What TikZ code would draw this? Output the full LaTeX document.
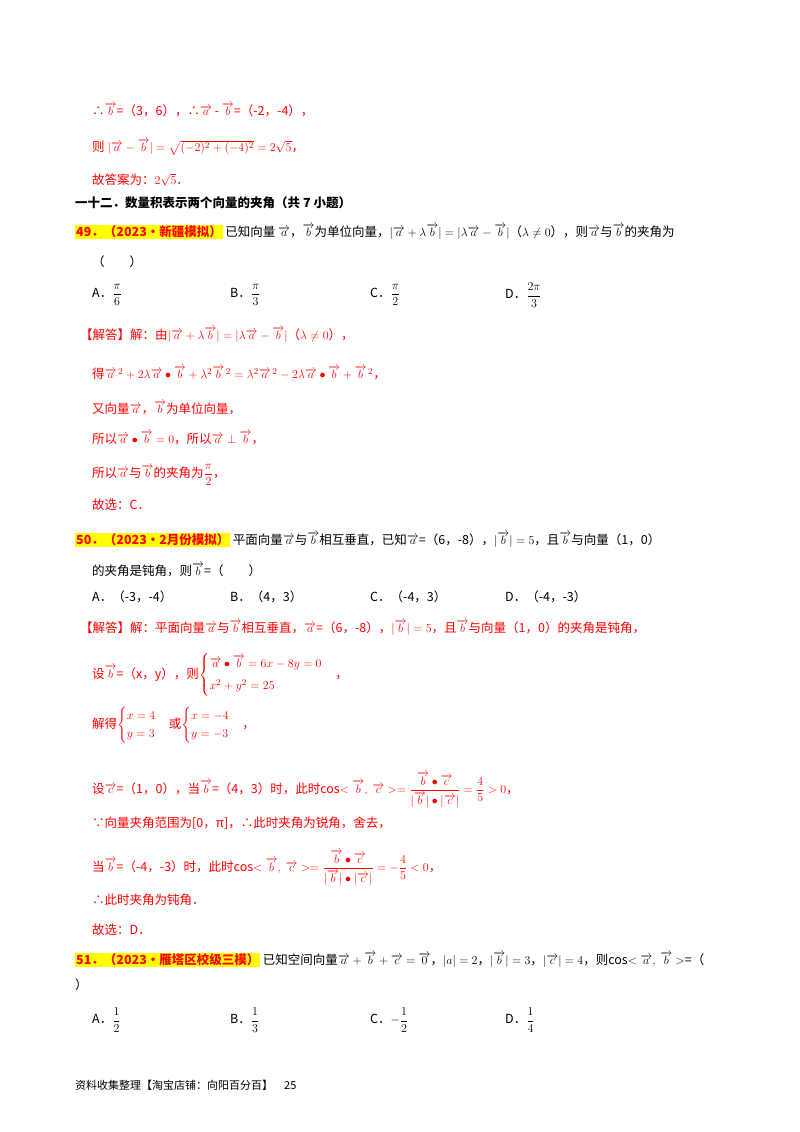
\documentclass[tikz,border=0pt]{standalone}
\usepackage{fontspec}
\setmainfont{Noto Sans CJK SC}
\usepackage{amsmath}
\definecolor{hl}{RGB}{255,255,0}
\newcommand{\va}{\overrightarrow{a}}
\newcommand{\vb}{\overrightarrow{b}}
\newcommand{\vc}{\overrightarrow{c}}
\begin{document}
\begin{tikzpicture}[x=1pt,y=-1pt,
 t/.style={anchor=west,inner sep=0pt,text=red,font=\fontsize{12.5}{15}\selectfont},
 k/.style={t,text=black},
 hb/.style={t,fill=hl,inner sep=1pt,font=\fontsize{12.5}{15}\selectfont\bfseries}]
\useasboundingbox[fill=white] (0,0) rectangle (800,1132);
\node[t] (l1) at (92,110) {∴$\vb$=（3，6），∴$\va$ - $\vb$=（-2，-4），};
\node[t] (l2) at (92,147) {则 $|\va-\vb|=\sqrt{(-2)^2+(-4)^2}=2\sqrt5$，};
\node[t] (l3) at (92,180) {故答案为：$2\sqrt5$．};
\node[k,font=\fontsize{12.5}{15}\selectfont\bfseries] (h) at (75,203) {一十二．数量积表示两个向量的夹角（共 7 小题）};
\node[hb] (q49) at (75,232) {49．（2023•新疆模拟）};
\node[k] (q49t) at (q49.east) {\,已知向量 $\va$，$\vb$为单位向量，$|\va+\lambda\vb|=|\lambda\va-\vb|$（$\lambda\neq0$），则$\va$与$\vb$的夹角为};
\node[k] (q49p) at (92,262) {（　　）};
\node[k] (a49) at (92,295) {A．$\dfrac{\pi}{6}$};
\node[k] (b49) at (230,295) {B．$\dfrac{\pi}{3}$};
\node[k] (c49) at (370,295) {C．$\dfrac{\pi}{2}$};
\node[k] (d49) at (505,295) {D．$\dfrac{2\pi}{3}$};
\node[t] (s1) at (80,335) {【解答】解：由$|\va+\lambda\vb|=|\lambda\va-\vb|$（$\lambda\neq0$），};
\node[t] (s2) at (92,373) {得$\va^{\,2}+2\lambda\va\bullet\vb+\lambda^2\vb^{\,2}=\lambda^2\va^{\,2}-2\lambda\va\bullet\vb+\vb^{\,2}$，};
\node[t] (s3) at (92,408) {又向量$\va$，$\vb$为单位向量，};
\node[t] (s4) at (92,438) {所以$\va\bullet\vb=0$，所以$\va\perp\vb$，};
\node[t] (s5) at (92,475) {所以$\va$与$\vb$的夹角为$\dfrac{\pi}{2}$，};
\node[t] (s6) at (92,505) {故选：\textit{C}．};
\node[hb] (q50) at (75,540) {50．（2023•2月份模拟）};
\node[k] (q50t) at (q50.east) {\,平面向量$\va$与$\vb$相互垂直，已知$\va$=（6，-8），$|\vb|=5$，且$\vb$与向量（1，0）};
\node[k] (q50b) at (92,570) {的夹角是钝角，则$\vb$=（　　）};
\node[k] (a50) at (92,597) {A．（-3，-4）};
\node[k] (b50) at (230,597) {B．（4，3）};
\node[k] (c50) at (370,597) {C．（-4，3）};
\node[k] (d50) at (505,597) {D．（-4，-3）};
\node[t] (u1) at (80,628) {【解答】解：平面向量$\va$与$\vb$相互垂直，$\va$=（6，-8），$|\vb|=5$，且$\vb$与向量（1，0）的夹角是钝角，};
\node[t] (u2) at (92,675) {设$\vb$=（\textit{x}，\textit{y}），则$\begin{cases}\va\bullet\vb=6x-8y=0\\[4pt] x^2+y^2=25\end{cases}$，};
\node[t] (u3) at (92,725) {解得$\begin{cases}x=4\\y=3\end{cases}$或$\begin{cases}x=-4\\y=-3\end{cases}$，};
\node[t] (u4) at (92,790) {设$\vc$=（1，0），当$\vb$=（4，3）时，此时cos$<\vb,\ \vc>=\dfrac{\vb\bullet\vc}{|\vb|\bullet|\vc|}=\dfrac{4}{5}>0$，};
\node[t] (u5) at (92,823) {∵向量夹角范围为[0，π]，∴此时夹角为锐角，舍去，};
\node[t] (u6) at (92,868) {当$\vb$=（-4，-3）时，此时cos$<\vb,\ \vc>=\dfrac{\vb\bullet\vc}{|\vb|\bullet|\vc|}=-\dfrac{4}{5}<0$，};
\node[t] (u7) at (92,900) {∴此时夹角为钝角．};
\node[t] (u8) at (92,930) {故选：\textit{D}．};
\node[hb] (q51) at (75,960) {51．（2023•雁塔区校级三模）};
\node[k] (q51t) at (q51.east) {\,已知空间向量$\va+\vb+\vc=\overrightarrow{0}$，$|a|=2$，$|\vb|=3$，$|\vc|=4$，则cos$<\va,\ \vb>$=（};
\node[k] (q51p) at (75,985) {）};
\node[k] (a51) at (92,1020) {A．$\dfrac12$};
\node[k] (b51) at (230,1020) {B．$\dfrac13$};
\node[k] (c51) at (370,1020) {C．$-\dfrac12$};
\node[k] (d51) at (505,1020) {D．$\dfrac14$};
\node[k,font=\fontsize{11}{13}\selectfont] (ft) at (75,1085) {资料收集整理【淘宝店铺：向阳百分百】\quad 25};
\end{tikzpicture}
\end{document}
